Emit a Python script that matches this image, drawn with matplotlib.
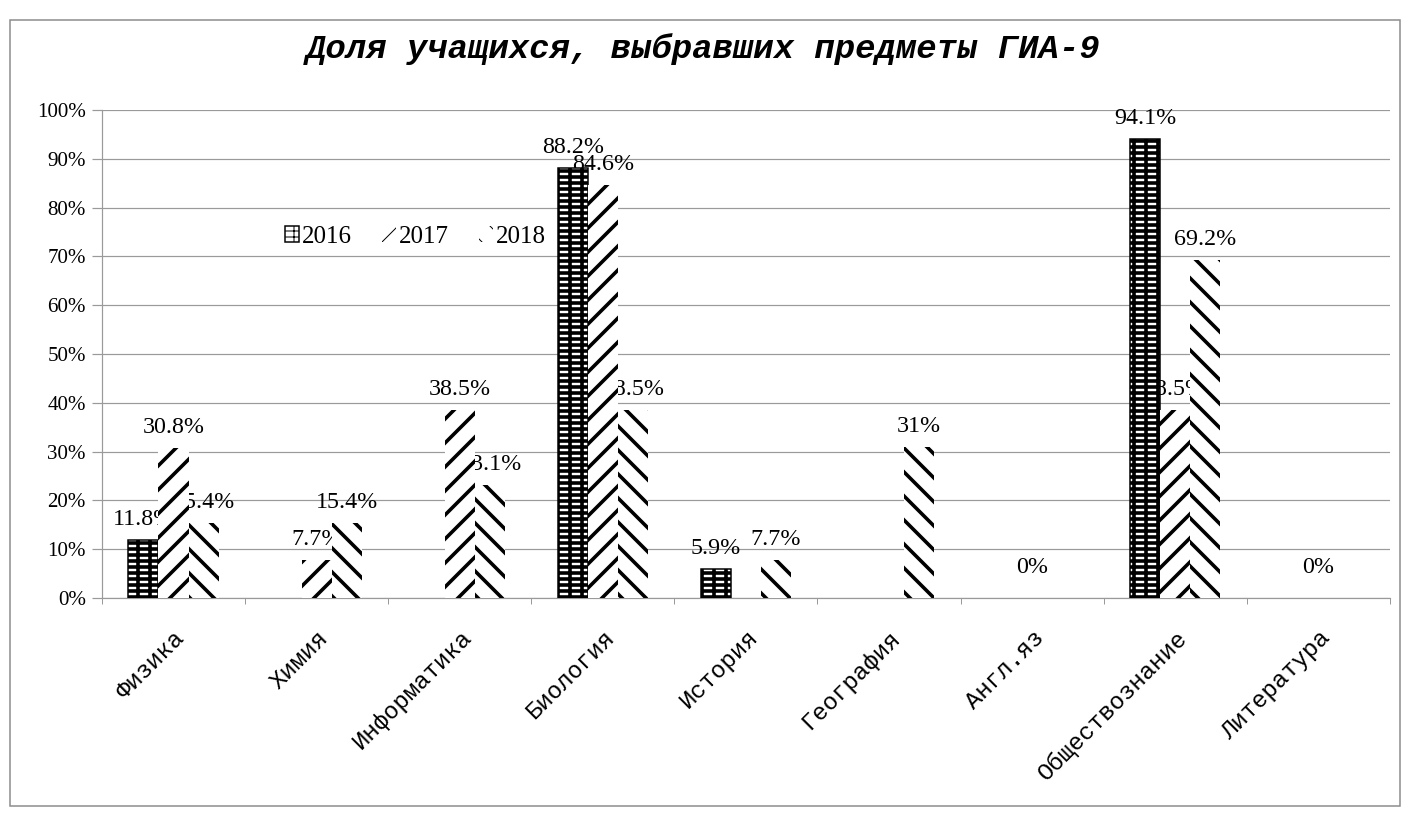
import matplotlib
matplotlib.use("Agg")
import matplotlib.pyplot as plt
import numpy as np
from matplotlib.patches import Rectangle

# subjects and shares (percent); None = no bar
subjects = ["Физика", "Химия", "Информатика", "Биология", "История",
            "География", "Англ.яз", "Обществознание", "Литература"]
years = ["2016", "2017", "2018"]
share_2016 = [11.8, None, None, 88.2, 5.9, None, None, 94.1, None]
share_2017 = [30.8, 7.7, 38.5, 84.6, None, None, 0, 38.5, 0]
share_2018 = [15.4, 15.4, 23.1, 38.5, 7.7, 31, None, 69.2, None]
# label texts as printed on the chart
labels_2016 = ["11.8%", "", "", "88.2%", "5.9%", "", "", "94.1%", ""]
labels_2017 = ["30.8%", "7.7%", "38.5%", "84.6%", "", "", "0%", "38.5%", "0%"]
labels_2018 = ["15.4%", "15.4%", "23.1%", "88.5%", "7.7%", "31%", "", "69.2%", ""]

series = [share_2016, share_2017, share_2018]
series_labels = [labels_2016, labels_2017, labels_2018]
hatches = ["--|", "/", "\\"]
edge_widths = [1.5, 0, 0]

serif = "Liberation Serif"
mono = "Liberation Mono"

fig = plt.figure(figsize=(1406 / 72, 813 / 72), dpi=72)
ax = fig.add_axes([0.0725, 0.2645, 0.916, 0.6002])

x = np.arange(len(subjects))
w = 0.21
offsets = [-w, 0, w]

handles = []
for vals, labs, hatch, off, year, ew in zip(series, series_labels, hatches,
                                            offsets, years, edge_widths):
    xs = [xi + off for xi, v in zip(x, vals) if v is not None]
    hs = [v for v in vals if v is not None]
    bars = ax.bar(xs, hs, width=w, color="white", edgecolor="black",
                  linewidth=ew, hatch=hatch, zorder=3, label=year)
    for b in bars:
        b.set_hatch_linewidth(3.6)
    handles.append(bars)
    # labels sit under the bars, as in the original
    for xi, v, t in zip(x, vals, labs):
        if v is None or not t:
            continue
        dy = 10 if v > 0 else 20
        ax.annotate(t, (xi + off, v), xytext=(0, dy), textcoords="offset points",
                    ha="center", va="bottom", fontsize=24, family=serif, zorder=2)

ax.set_ylim(0, 100)
ax.set_xlim(-0.5, len(subjects) - 0.5)
ax.set_yticks(np.arange(0, 101, 10))
ax.set_yticklabels([f"{v}%" for v in range(0, 101, 10)], family=serif, fontsize=21)
ax.yaxis.grid(True, color="#9a9a9a", linewidth=1.2, zorder=0)
ax.set_axisbelow(True)
ax.tick_params(axis="y", length=10, color="#9a9a9a", width=1.2, pad=6)

ax.set_xticks(np.arange(len(subjects) + 1) - 0.5, minor=False)
ax.set_xticklabels([])
ax.set_xticks(x, minor=True)
ax.set_xticklabels(subjects, minor=True, rotation=45, ha="right",
                   rotation_mode="anchor", family=mono, fontsize=24)
ax.tick_params(axis="x", which="major", length=6, color="#9a9a9a", width=1)
ax.tick_params(axis="x", which="minor", length=0, pad=28)

for side in ["top", "right"]:
    ax.spines[side].set_visible(False)
for side in ["left", "bottom"]:
    ax.spines[side].set_color("#9a9a9a")
    ax.spines[side].set_linewidth(1.2)

leg = ax.legend(handles=handles, labels=years, ncol=3, frameon=False,
                loc="center left", bbox_to_anchor=(0.125, 0.74),
                prop={"family": serif, "size": 25}, handlelength=0.55,
                handleheight=0.55, handletextpad=0.12, columnspacing=1.2)

fig.text(0.5, 0.94, "Доля учащихся, выбравших предметы ГИА-9", ha="center",
         va="center", family=mono, fontsize=34, fontweight="bold", style="italic")

fig.patches.append(Rectangle((10 / 1406, 1 - 806 / 813), 1390 / 1406, 786 / 813,
                             transform=fig.transFigure, fill=False,
                             edgecolor="#8a8a8a", linewidth=1.5))

fig.savefig("out.png", dpi=72)
